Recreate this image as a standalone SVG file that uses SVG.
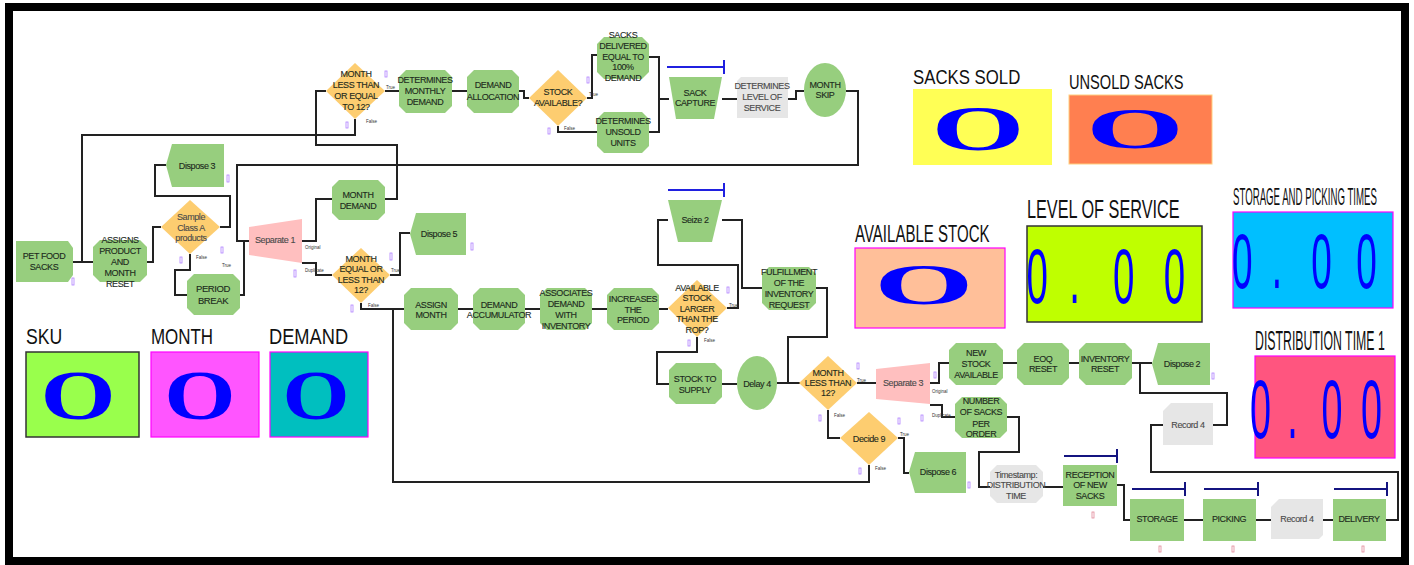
<svg xmlns="http://www.w3.org/2000/svg" width="1414" height="565" viewBox="0 0 1414 565">
<style>
.n{fill:#97CE7E}
.d{fill:#FDCD70}
.s{fill:#FFBFBF}
.g{fill:#E6E6E6}
.c{fill:none;stroke:#222;stroke-width:2}
.t{font-family:"Liberation Sans",Arial,sans-serif;font-size:9px;letter-spacing:-0.4px;text-anchor:middle;fill:#1c2a1c;stroke:#1c2a1c;stroke-width:0.12}
.tg{fill:#4a4a4a;stroke:#4a4a4a}
.lb{font-family:"Liberation Sans",Arial,sans-serif;font-size:4.5px;fill:#333}
.rb{stroke:#2020E0;stroke-width:2;fill:none}
.rb2{stroke:#141480;stroke-width:2;fill:none}
.mk{fill:none;stroke:#b080ff;stroke-width:0.8}
.mk2{fill:none;stroke:#e08898;stroke-width:0.8}
.big{font-family:"Liberation Serif","Times New Roman",serif;font-weight:bold;fill:#0000FF;text-anchor:middle}
.dig{font-family:"Liberation Sans",Arial,sans-serif;fill:#0000FF;text-anchor:middle}
.pl{font-family:"Liberation Sans",Arial,sans-serif;fill:#111}
</style>
<rect x="9" y="7" width="1396" height="554" fill="#fff" stroke="#000" stroke-width="8"/>

<g id="connectors">
<polyline class="c" points="73,262 93,262"/>
<polyline class="c" points="355,119 355,135 82,135 82,262"/>
<polyline class="c" points="147,262 153,262 153,227 161,227"/>
<polyline class="c" points="220,227 230,227 230,196 155,196 155,165 166,165"/>
<polyline class="c" points="190,254 190,270 175,270 175,295 187,295"/>
<polyline class="c" points="240,295 244,295 244,241 249,241"/>
<polyline class="c" points="846,91 858,91 858,165 237,165 237,241 249,241"/>
<polyline class="c" points="302,241 316,241 316,199 332,199"/>
<polyline class="c" points="302,263 316,263 316,275 332,275"/>
<polyline class="c" points="385,199 397,199 397,145 316,145 316,91 326,91"/>
<polyline class="c" points="385,91 399,91"/>
<polyline class="c" points="452,91 467,91"/>
<polyline class="c" points="519,91 524,91 524,98 529,98"/>
<polyline class="c" points="587,98 592,98 592,55 597,55"/>
<polyline class="c" points="558,126 558,132 597,132"/>
<polyline class="c" points="649,57 659,57 659,132 649,132"/>
<polyline class="c" points="659,99 669,99"/>
<polyline class="c" points="722,99 737,99"/>
<polyline class="c" points="788,99 796,99 796,91 804,91"/>
<polyline class="c" points="390,275 400,275 400,233 410,233"/>
<polyline class="c" points="361,303 361,309 404,309"/>
<polyline class="c" points="869,465 869,482 393,482 393,309"/>
<polyline class="c" points="458,309 473,309"/>
<polyline class="c" points="525,309 540,309"/>
<polyline class="c" points="592,309 607,309"/>
<polyline class="c" points="659,309 668,309"/>
<polyline class="c" points="727,308 738,308 738,265 658,265 658,220 668,220"/>
<polyline class="c" points="722,220 742,220 742,288 762,288"/>
<polyline class="c" points="816,288 827,288 827,337 788,337 788,383 800,383"/>
<polyline class="c" points="697,337 697,352 657,352 657,384 669,384"/>
<polyline class="c" points="722,384 737,384"/>
<polyline class="c" points="777,383 800,383"/>
<polyline class="c" points="857,383 876,383"/>
<polyline class="c" points="828,410 828,438 840,438"/>
<polyline class="c" points="898,438 904,438 904,473 909,473"/>
<polyline class="c" points="930,383 939,383 939,363 949,363"/>
<polyline class="c" points="930,405 942,405 942,417 955,417"/>
<polyline class="c" points="1003,363 1017,363"/>
<polyline class="c" points="1069,363 1079,363"/>
<polyline class="c" points="1132,363 1152,363"/>
<polyline class="c" points="1213,425 1227,425 1227,393 1140,393 1140,363"/>
<polyline class="c" points="1386,520 1398,520 1398,472 1151,472 1151,425 1163,425"/>
<polyline class="c" points="1007,417 1019,417 1019,452 979,452 979,487 990,487"/>
<polyline class="c" points="1043,487 1063,487"/>
<polyline class="c" points="1117,485 1124,485 1124,520 1130,520"/>
<polyline class="c" points="1184,520 1203,520"/>
<polyline class="c" points="1256,520 1271,520"/>
<polyline class="c" points="1323,520 1333,520"/>
</g>

<g id="branch-labels">
<text class="lb" x="196" y="259">False</text>
<text class="lb" x="222" y="267">True</text>
<text class="lb" x="305" y="249">Original</text>
<text class="lb" x="305" y="272">Duplicate</text>
<text class="lb" x="391" y="272">True</text>
<text class="lb" x="368" y="307">False</text>
<text class="lb" x="386" y="89">True</text>
<text class="lb" x="366" y="123">False</text>
<text class="lb" x="589" y="96">True</text>
<text class="lb" x="564" y="130">False</text>
<text class="lb" x="729" y="307">True</text>
<text class="lb" x="704" y="342">False</text>
<text class="lb" x="857" y="382">True</text>
<text class="lb" x="834" y="417">False</text>
<text class="lb" x="900" y="436">True</text>
<text class="lb" x="875" y="470">False</text>
<text class="lb" x="932" y="393">Original</text>
<text class="lb" x="932" y="417">Duplicate</text>
</g>

<g id="markers">
<rect class="mk" x="72" y="278" width="2" height="7"/>
<rect class="mk" x="227" y="175" width="2" height="7"/>
<rect class="mk" x="180" y="257" width="2" height="6"/>
<rect class="mk" x="221" y="247" width="2" height="6"/>
<rect class="mk" x="294" y="270" width="2" height="7"/>
<rect class="mk" x="382" y="203" width="2" height="6"/>
<rect class="mk" x="471" y="243" width="2" height="7"/>
<rect class="mk" x="390" y="253" width="2" height="7"/>
<rect class="mk" x="351" y="305" width="2" height="7"/>
<rect class="mk" x="385" y="71" width="2" height="6"/>
<rect class="mk" x="346" y="122" width="2" height="6"/>
<rect class="mk" x="587" y="77" width="2" height="6"/>
<rect class="mk" x="548" y="128" width="2" height="6"/>
<rect class="mk" x="727" y="287" width="2" height="6"/>
<rect class="mk" x="688" y="340" width="2" height="6"/>
<rect class="mk" x="857" y="363" width="2" height="6"/>
<rect class="mk" x="819" y="415" width="2" height="6"/>
<rect class="mk" x="898" y="418" width="2" height="6"/>
<rect class="mk" x="859" y="468" width="2" height="6"/>
<rect class="mk" x="921" y="415" width="2" height="6"/>
<rect class="mk" x="934" y="372" width="2" height="6"/>
<rect class="mk" x="968" y="482" width="2" height="6"/>
<rect class="mk" x="1212" y="373" width="2" height="6"/>
<rect class="mk2" x="1092" y="512" width="2" height="6"/>
<rect class="mk2" x="1159" y="546" width="2" height="6"/>
<rect class="mk2" x="1232" y="546" width="2" height="6"/>
<rect class="mk2" x="1362" y="546" width="2" height="6"/>
</g>

<g id="resources">
<polyline class="rb" points="667,67 724,67"/><polyline class="rb" points="724,60 724,74"/>
<polyline class="rb" points="668,190 724,190"/><polyline class="rb" points="724,183 724,197"/>
<polyline class="rb2" points="1064,456 1117,456"/><polyline class="rb2" points="1117,449 1117,463"/>
<polyline class="rb2" points="1132,489 1185,489"/><polyline class="rb2" points="1185,482 1185,496"/>
<polyline class="rb2" points="1204,489 1258,489"/><polyline class="rb2" points="1258,482 1258,496"/>
<polyline class="rb2" points="1334,489 1387,489"/><polyline class="rb2" points="1387,482 1387,496"/>
</g>

<g id="pet-food-sacks"><polygon class="n" points="16,241 68,241 73,248 73,275 68,282 16,282"/>
<text class="t"><tspan x="44" y="259">PET FOOD</tspan><tspan x="44" y="270">SACKS</tspan></text></g>

<g id="assigns-product"><polygon class="n" points="100,240 140,240 147,247 147,275 140,282 100,282 93,275 93,247"/>
<text class="t"><tspan x="120" y="243">ASSIGNS</tspan><tspan x="120" y="254">PRODUCT</tspan><tspan x="120" y="265">AND</tspan><tspan x="120" y="276">MONTH</tspan><tspan x="120" y="287">RESET</tspan></text></g>

<g id="dispose-3"><polygon class="n" points="172,144 224,144 224,187 172,187 166,165"/>
<text class="t" x="197" y="169">Dispose 3</text></g>

<g id="sample-class-a"><polygon class="d" points="190,200 220,227 190,254 161,227"/>
<text class="t tg"><tspan x="191" y="220">Sample</tspan><tspan x="191" y="231">Class A</tspan><tspan x="191" y="241">products</tspan></text></g>

<g id="period-break"><polygon class="n" points="194,274 233,274 240,281 240,308 233,315 194,315 187,308 187,281"/>
<text class="t" style="font-size:9.5px"><tspan x="213" y="292">PERIOD</tspan><tspan x="213" y="304">BREAK</tspan></text></g>

<g id="separate-1"><polygon class="s" points="249,227 302,219 302,263 249,255"/>
<text class="t tg" x="275" y="243">Separate 1</text></g>

<g id="month-demand"><polygon class="n" points="339,180 378,180 385,187 385,213 378,220 339,220 332,213 332,187"/>
<text class="t"><tspan x="358" y="198">MONTH</tspan><tspan x="358" y="209">DEMAND</tspan></text></g>

<g id="month-le-12-top"><polygon class="d" points="355,63 385,91 355,119 326,91"/>
<text class="t"><tspan x="356" y="77">MONTH</tspan><tspan x="356" y="88">LESS THAN</tspan><tspan x="356" y="99">OR EQUAL</tspan><tspan x="356" y="110">TO 12?</tspan></text></g>

<g id="determines-monthly-demand"><polygon class="n" points="406,70 445,70 452,77 452,106 445,113 406,113 399,106 399,77"/>
<text class="t"><tspan x="425" y="83">DETERMINES</tspan><tspan x="425" y="94">MONTHLY</tspan><tspan x="425" y="105">DEMAND</tspan></text></g>

<g id="demand-allocation"><polygon class="n" points="474,70 512,70 519,77 519,106 512,113 474,113 467,106 467,77"/>
<text class="t"><tspan x="493" y="88">DEMAND</tspan><tspan x="493" y="100">ALLOCATION</tspan></text></g>

<g id="stock-available"><polygon class="d" points="558,70 587,98 558,126 529,98"/>
<text class="t"><tspan x="558" y="95">STOCK</tspan><tspan x="558" y="106">AVAILABLE?</tspan></text></g>

<g id="sacks-delivered"><polygon class="n" points="604,37 642,37 649,44 649,72 642,79 604,79 597,72 597,44"/>
<text class="t"><tspan x="623" y="38">SACKS</tspan><tspan x="623" y="49">DELIVERED</tspan><tspan x="623" y="60">EQUAL TO</tspan><tspan x="623" y="70">100%</tspan><tspan x="623" y="81">DEMAND</tspan></text></g>

<g id="determines-unsold"><polygon class="n" points="604,112 642,112 649,119 649,146 642,153 604,153 597,146 597,119"/>
<text class="t"><tspan x="623" y="124">DETERMINES</tspan><tspan x="623" y="135">UNSOLD</tspan><tspan x="623" y="146">UNITS</tspan></text></g>

<g id="sack-capture"><polygon class="n" points="669,77 722,77 714,119 676,119"/>
<text class="t"><tspan x="695" y="96">SACK</tspan><tspan x="695" y="106">CAPTURE</tspan></text></g>

<g id="determines-level"><polygon class="g" points="741,77 788,77 788,118 737,118 737,81"/>
<text class="t tg"><tspan x="762" y="89">DETERMINES</tspan><tspan x="762" y="100">LEVEL OF</tspan><tspan x="762" y="111">SERVICE</tspan></text></g>

<g id="month-skip"><ellipse class="n" cx="825" cy="90" rx="21" ry="27"/>
<text class="t"><tspan x="825" y="88">MONTH</tspan><tspan x="825" y="98">SKIP</tspan></text></g>

<g id="month-eq-le-12"><polygon class="d" points="361,248 390,275 361,303 332,275"/>
<text class="t"><tspan x="361" y="262">MONTH</tspan><tspan x="361" y="272">EQUAL OR</tspan><tspan x="361" y="283">LESS THAN</tspan><tspan x="361" y="293">12?</tspan></text></g>

<g id="dispose-5"><polygon class="n" points="416,213 466,213 466,255 416,255 410,234"/>
<text class="t" x="439" y="237">Dispose 5</text></g>

<g id="assign-month"><polygon class="n" points="411,288 451,288 458,295 458,323 451,330 411,330 404,323 404,295"/>
<text class="t"><tspan x="431" y="308">ASSIGN</tspan><tspan x="431" y="318">MONTH</tspan></text></g>

<g id="demand-accumulator"><polygon class="n" points="480,288 518,288 525,295 525,323 518,330 480,330 473,323 473,295"/>
<text class="t"><tspan x="499" y="308">DEMAND</tspan><tspan x="499" y="318">ACCUMULATOR</tspan></text></g>

<g id="associates-demand"><polygon class="n" points="547,288 585,288 592,295 592,323 585,330 547,330 540,323 540,295"/>
<text class="t"><tspan x="566" y="296">ASSOCIATES</tspan><tspan x="566" y="307">DEMAND</tspan><tspan x="566" y="318">WITH</tspan><tspan x="566" y="329">INVENTORY</tspan></text></g>

<g id="increases-period"><polygon class="n" points="614,288 652,288 659,295 659,323 652,330 614,330 607,323 607,295"/>
<text class="t"><tspan x="633" y="302">INCREASES</tspan><tspan x="633" y="313">THE</tspan><tspan x="633" y="323">PERIOD</tspan></text></g>

<g id="stock-larger-rop"><polygon class="d" points="697,280 727,308 697,337 668,308"/>
<text class="t"><tspan x="697" y="291">AVAILABLE</tspan><tspan x="697" y="301">STOCK</tspan><tspan x="697" y="312">LARGER</tspan><tspan x="697" y="322">THAN THE</tspan><tspan x="697" y="333">ROP?</tspan></text></g>

<g id="seize-2"><polygon class="n" points="668,200 722,200 712,242 678,242"/>
<text class="t" x="695" y="223">Seize 2</text></g>

<g id="fulfillment"><polygon class="n" points="769,267 809,267 816,274 816,303 809,310 769,310 762,303 762,274"/>
<text class="t"><tspan x="789" y="275">FULFILLMENT</tspan><tspan x="789" y="286">OF THE</tspan><tspan x="789" y="297">INVENTORY</tspan><tspan x="789" y="308">REQUEST</tspan></text></g>

<g id="stock-to-supply"><polygon class="n" points="676,363 715,363 722,370 722,397 715,404 676,404 669,397 669,370"/>
<text class="t"><tspan x="695" y="382">STOCK TO</tspan><tspan x="695" y="393">SUPPLY</tspan></text></g>

<g id="delay-4"><ellipse class="n" cx="757" cy="383" rx="20" ry="27"/>
<text class="t" x="757" y="387">Delay 4</text></g>

<g id="month-lt-12"><polygon class="d" points="828,356 857,383 828,410 799,383"/>
<text class="t"><tspan x="828" y="376">MONTH</tspan><tspan x="828" y="386">LESS THAN</tspan><tspan x="828" y="396">12?</tspan></text></g>

<g id="decide-9"><polygon class="d" points="869,412 898,438 869,465 840,438"/>
<text class="t" x="869" y="442">Decide 9</text></g>

<g id="dispose-6"><polygon class="n" points="915,452 966,452 966,493 915,493 909,472"/>
<text class="t" x="938" y="475">Dispose 6</text></g>

<g id="separate-3"><polygon class="s" points="876,369 930,363 930,404 876,399"/>
<text class="t tg" x="903" y="386">Separate 3</text></g>

<g id="new-stock"><polygon class="n" points="956,343 996,343 1003,350 1003,378 996,385 956,385 949,378 949,350"/>
<text class="t"><tspan x="976" y="356">NEW</tspan><tspan x="976" y="367">STOCK</tspan><tspan x="976" y="378">AVAILABLE</tspan></text></g>

<g id="eoq-reset"><polygon class="n" points="1024,343 1062,343 1069,350 1069,378 1062,385 1024,385 1017,378 1017,350"/>
<text class="t"><tspan x="1043" y="362">EOQ</tspan><tspan x="1043" y="372">RESET</tspan></text></g>

<g id="inventory-reset"><polygon class="n" points="1086,343 1125,343 1132,350 1132,378 1125,385 1086,385 1079,378 1079,350"/>
<text class="t"><tspan x="1105" y="362">INVENTORY</tspan><tspan x="1105" y="372">RESET</tspan></text></g>

<g id="dispose-2"><polygon class="n" points="1158,343 1210,343 1210,385 1158,385 1152,364"/>
<text class="t" x="1182" y="367">Dispose 2</text></g>

<g id="record-4-upper"><polygon class="g" points="1171,403 1213,403 1213,445 1163,445 1163,411"/>
<text class="t tg" x="1188" y="428">Record 4</text></g>

<g id="number-of-sacks"><polygon class="n" points="962,397 1000,397 1007,404 1007,431 1000,438 962,438 955,431 955,404"/>
<text class="t"><tspan x="981" y="404">NUMBER</tspan><tspan x="981" y="415">OF SACKS</tspan><tspan x="981" y="427">PER</tspan><tspan x="981" y="437">ORDER</tspan></text></g>

<g id="timestamp"><polygon class="g" points="997,465 1036,465 1043,472 1043,496 1036,503 997,503 990,496 990,472"/>
<text class="t tg"><tspan x="1016" y="478">Timestamp:</tspan><tspan x="1016" y="488">DISTRIBUTION</tspan><tspan x="1016" y="499">TIME</tspan></text></g>

<g id="reception"><rect class="n" x="1063" y="465" width="54" height="41"/>
<text class="t"><tspan x="1090" y="478">RECEPTION</tspan><tspan x="1090" y="488">OF NEW</tspan><tspan x="1090" y="499">SACKS</tspan></text></g>

<g id="storage"><rect class="n" x="1130" y="499" width="54" height="42"/>
<text class="t" x="1157" y="522">STORAGE</text></g>

<g id="picking"><rect class="n" x="1203" y="499" width="53" height="42"/>
<text class="t" x="1229" y="522">PICKING</text></g>

<g id="record-4-lower"><polygon class="g" points="1279,499 1323,499 1323,535 1319,539 1271,539 1271,507"/>
<text class="t tg" x="1297" y="522">Record 4</text></g>

<g id="delivery"><rect class="n" x="1333" y="499" width="53" height="42"/>
<text class="t" x="1359" y="522">DELIVERY</text></g>

<g id="panel-sku">
<text class="pl" font-size="22" transform="translate(26,344) scale(0.8,1)">SKU</text>
<rect x="26" y="352" width="113" height="85" fill="#99FF4C" stroke="#333" stroke-width="1.5"/>
<text class="big" font-size="70" transform="translate(78,419) scale(1.38,1)">O</text>
</g>
<g id="panel-month">
<text class="pl" font-size="22" transform="translate(151,344) scale(0.77,1)">MONTH</text>
<rect x="151" y="352" width="108" height="85" fill="#FF55FF" stroke="#FF00FF" stroke-width="1.2"/>
<text class="big" font-size="70" transform="translate(200,419) scale(1.31,1)">O</text>
</g>
<g id="panel-demand">
<text class="pl" font-size="22" transform="translate(269,344) scale(0.83,1)">DEMAND</text>
<rect x="270" y="352" width="98" height="85" fill="#00BFBF" stroke="#FF00FF" stroke-width="1.2"/>
<text class="big" font-size="70" transform="translate(316,419) scale(1.23,1)">O</text>
</g>
<g id="panel-sacks-sold">
<text class="pl" font-size="21" transform="translate(913,84) scale(0.8,1)">SACKS SOLD</text>
<rect x="913" y="89" width="139" height="76" fill="#FFFF55"/>
<text class="big" font-size="64" transform="translate(978,150) scale(1.87,1)">O</text>
</g>
<g id="panel-unsold-sacks">
<text class="pl" font-size="19.5" transform="translate(1069,89) scale(0.75,1)">UNSOLD SACKS</text>
<rect x="1069" y="95" width="143" height="69" fill="#FF7F50" stroke="#FFD080" stroke-width="1"/>
<text class="big" font-size="57" transform="translate(1135,148) scale(2.2,1)">O</text>
</g>
<g id="panel-available-stock">
<text class="pl" font-size="23.5" transform="translate(855,242) scale(0.64,1)">AVAILABLE STOCK</text>
<rect x="855" y="248" width="150" height="80" fill="#FFBF99" stroke="#FF00FF" stroke-width="1.2"/>
<text class="big" font-size="58" transform="translate(924,304) scale(2.2,1)">O</text>
</g>
<g id="panel-level-of-service">
<text class="pl" font-size="25" transform="translate(1027,218) scale(0.65,1)">LEVEL OF SERVICE</text>
<rect x="1027" y="226" width="175" height="96" fill="#BFFF00" stroke="#333" stroke-width="1.5"/>
<text class="dig" font-size="77" transform="translate(0,303) scale(0.5,1)"><tspan x="2085">0</tspan> <tspan x="2160">.</tspan> <tspan x="2258">0</tspan> <tspan x="2349">0</tspan></text>
</g>
<g id="panel-storage-picking">
<text class="pl" font-size="23" transform="translate(1233,205) scale(0.42,1)">STORAGE AND PICKING TIMES</text>
<rect x="1233" y="212" width="160" height="96" fill="#00BFFF" stroke="#FF00FF" stroke-width="1.2"/>
<text class="dig" font-size="77" transform="translate(0,288) scale(0.48,1)"><tspan x="2599">0</tspan> <tspan x="2671">.</tspan> <tspan x="2764">0</tspan> <tspan x="2847">0</tspan></text>
</g>
<g id="panel-distribution-time">
<text class="pl" font-size="28" transform="translate(1255,350) scale(0.44,1)">DISTRIBUTION TIME 1</text>
<rect x="1255" y="356" width="140" height="102" fill="#FF557F" stroke="#FF00FF" stroke-width="1.2"/>
<text class="dig" font-size="84" transform="translate(0,438) scale(0.45,1)"><tspan x="2813">0</tspan> <tspan x="2884">.</tspan> <tspan x="2972">0</tspan> <tspan x="3048">0</tspan></text>
</g>
</svg>
